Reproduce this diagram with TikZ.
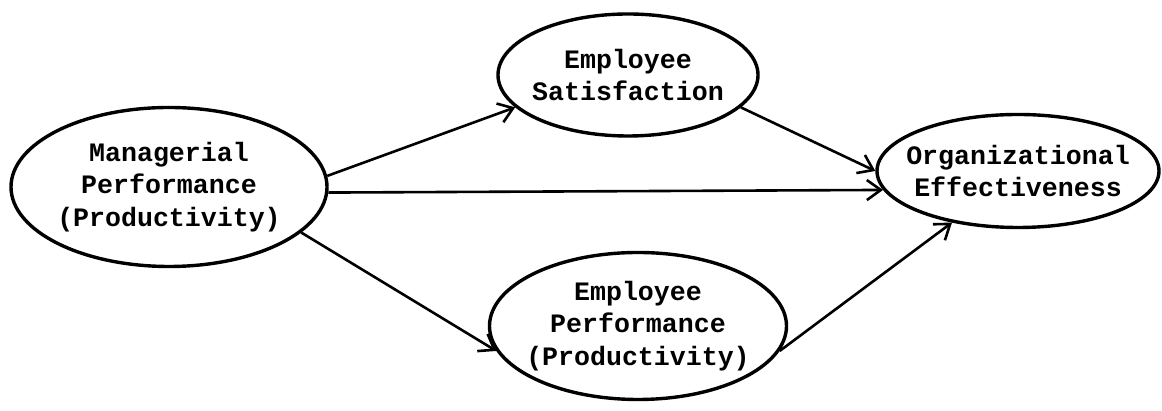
\documentclass[tikz,border=0pt]{standalone}
\usepackage{fontspec}
\setmonofont{Liberation Mono}
\usetikzlibrary{arrows.meta,shapes.geometric}
\tikzset{
  ar/.style={-{Straight Barb[length=7pt,width=10pt]},line width=1.3pt},
  bub/.style={ellipse,draw,line width=1.7pt,inner xsep=-20pt,inner ysep=-6pt,align=center,
    font=\ttfamily\bfseries\fontsize{13.3}{16.2}\selectfont}
}
\begin{document}
\begin{tikzpicture}[x=0.5pt,y=0.5pt]
\useasboundingbox (0,0) rectangle (1162,411);
% the four bubbles
\node[bub,minimum width=158pt,minimum height=79.5pt] (mgr) at (169,224) {Managerial\\Performance\\(Productivity)};
\node[bub,minimum width=130pt,minimum height=61pt] (sat) at (628,336) {Employee\\Satisfaction};
\node[bub,minimum width=148.5pt,minimum height=73.5pt] (perf) at (638,85) {Employee\\Performance\\(Productivity)};
\node[bub,minimum width=141pt,minimum height=56.5pt] (org) at (1018,240) {Organizational\\Effectiveness};
% paths between them
\draw[ar] (mgr.4) -- (sat.196);
\draw[ar] (mgr.-2) -- (org.188);
\draw[ar] (mgr.-19) -- (perf.190);
\draw[ar] (sat.-16) -- (org.west);
\draw[ar] (perf.-10) -- (org.218);
\end{tikzpicture}
\end{document}
